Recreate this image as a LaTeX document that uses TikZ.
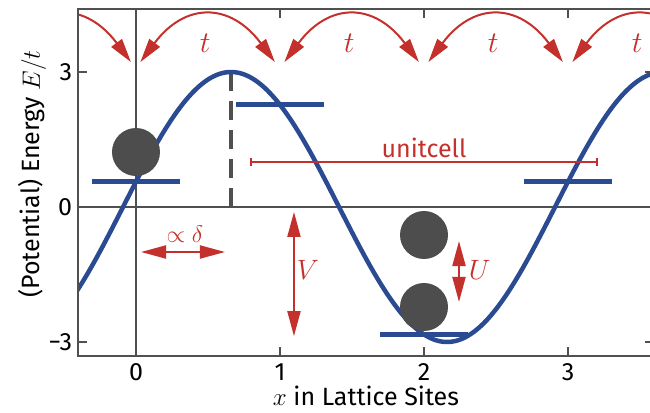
\RequirePackage{fix-cm}
\documentclass[tikz,border=0pt]{standalone}
\usepackage{fontspec}
\setmainfont{Fira Sans}
\usetikzlibrary{arrows.meta}
\definecolor{myred}{RGB}{196,48,44}
\definecolor{myblue}{RGB}{42,75,145}
\definecolor{axgray}{RGB}{80,80,80}
\definecolor{ballgray}{RGB}{77,77,77}
\begin{document}
\begin{tikzpicture}[x=144pt,y=45pt,
  txt/.style={font=\fontsize{25}{30}\selectfont, inner sep=0pt, text=black},
  redlab/.style={text=myred, inner sep=0pt},
  hop/.style={draw=myred, line width=2pt, {Triangle[length=24pt,width=13pt]}-{Triangle[length=24pt,width=13pt]}},
  dbl/.style={draw=myred, line width=2pt, {Triangle[length=25pt,width=13pt]}-{Triangle[length=25pt,width=13pt]}},
  capline/.style={draw=myred, line width=2pt, {Bar[width=8pt]}-{Bar[width=8pt]}},
  lvl/.style={draw=myblue, line width=5pt},
  ball/.style={circle, fill=ballgray, minimum size=48pt, inner sep=0pt},
  zline/.style={draw=axgray, line width=1.5pt},
  frameline/.style={draw=axgray, line width=2pt},
  tickmark/.style={draw=axgray, line width=2pt},
]
\useasboundingbox (-0.9444,-4.5556) rectangle (3.5694,4.6);
\coordinate (BL) at (-0.4,-3.3);
\coordinate (TR) at (3.6,4.4);
\coordinate (TL) at (-0.4,4.4);
\coordinate (BR) at (3.6,-3.3);
% zero lines and potential
\begin{scope}
\clip (BL) rectangle (TR);
\coordinate (z0b) at (0,-3.3);
\coordinate (z0t) at (0,4.4);
\coordinate (y0l) at (-0.4,0);
\coordinate (y0r) at (3.6,0);
\draw[zline] (z0b) -- (z0t);
\draw[zline] (y0l) -- (y0r);
\coordinate (dtop) at (0.66,3);
\coordinate (dbot) at (0.66,0);
\draw[axgray, line width=4pt, dash pattern=on 19pt off 10pt] (dtop) -- (dbot);
\draw[myblue, line width=4.5pt] plot[domain=-0.45:3.65, samples=200, smooth] (\x,{3*cos(120*(\x-0.66))});
\foreach \n in {0,1,2,3} {
  \pgfmathsetmacro{\en}{3*cos(120*(\n-0.66))}
  \coordinate (la\n) at (\n-0.305,\en);
  \coordinate (lb\n) at (\n+0.305,\en);
  \draw[lvl] (la\n) -- (lb\n);
}
\node[ball] (b0) at (0,1.222) {};
\node[ball] (b2u) at (2,-0.622) {};
\node[ball] (b2d) at (2,-2.222) {};
% hopping arcs
\foreach \n in {-1,0,1,2,3} {
  \coordinate (ha\n) at (\n+0.03,3.22);
  \coordinate (hb\n) at (\n+0.965,3.22);
  \draw[hop] (ha\n) .. controls (\n+0.3417,4.553) and (\n+0.6533,4.553) .. (hb\n);
}
\foreach \n in {0,1,2,3} {
  \node[redlab, font=\fontsize{30}{36}\selectfont] (t\n) at (\n+0.48,3.64) {$t$};
}
% unit cell
\coordinate (uca) at (0.79,1.0);
\coordinate (ucb) at (3.21,1.0);
\draw[capline] (uca) -- (ucb);
\node[redlab, font=\fontsize{25}{30}\selectfont] (uclab) at (2.0,1.31) {unitcell};
% delta
\coordinate (da) at (0.035,-1.0);
\coordinate (db) at (0.618,-1.0);
\draw[dbl] (da) -- (db);
\node[redlab, font=\fontsize{24}{28}\selectfont] (dlab) at (0.34,-0.6) {$\propto\delta$};
% V
\coordinate (va) at (1.097,-0.11);
\coordinate (vb) at (1.097,-2.87);
\draw[dbl] (va) -- (vb);
\node[redlab, font=\fontsize{28}{32}\selectfont, anchor=west] (vlab) at (1.115,-1.4) {$V$};
% U
\coordinate (ua) at (2.243,-0.756);
\coordinate (ub) at (2.243,-2.11);
\draw[dbl] (ua) -- (ub);
\node[redlab, font=\fontsize{28}{32}\selectfont, anchor=west] (ulab) at (2.31,-1.4) {$U$};
\end{scope}
% frame
\draw[frameline] (BR) -- (BL) -- (TL) -- (TR);
\foreach \n in {1,2,3} {
  \coordinate (bt\n) at (\n,-3.3);
  \coordinate (tt\n) at (\n,4.4);
  \draw[tickmark] (bt\n) -- ++(0,9pt);
  \draw[tickmark] (tt\n) -- ++(0,-9pt);
}
\foreach \v in {3,-3} {
  \coordinate (lt\v) at (-0.4,\v);
  \coordinate (rt\v) at (3.6,\v);
  \draw[tickmark] (lt\v) -- ++(9pt,0);
  \draw[tickmark] (rt\v) -- ++(-9pt,0);
}
% tick labels
\foreach \n in {0,1,2,3} {
  \node[txt, anchor=north] (xl\n) at ([yshift=-8pt]\n,-3.3) {\n};
}
\node[txt, anchor=east] (yl3) at ([xshift=-6pt]-0.4,3) {3};
\node[txt, anchor=east] (yl0) at ([xshift=-6pt]-0.4,0) {0};
\node[txt, anchor=east] (ylm3) at ([xshift=-6pt]-0.4,-3) {−3};
% axis labels
\node[txt, anchor=base] (xlab) at (1.597,-4.42) {$x$ in Lattice Sites};
\node[txt, anchor=base, rotate=90] (ylab) at (-0.667,0.733) {(Potential) Energy $E/t$};
\end{tikzpicture}
\end{document}
